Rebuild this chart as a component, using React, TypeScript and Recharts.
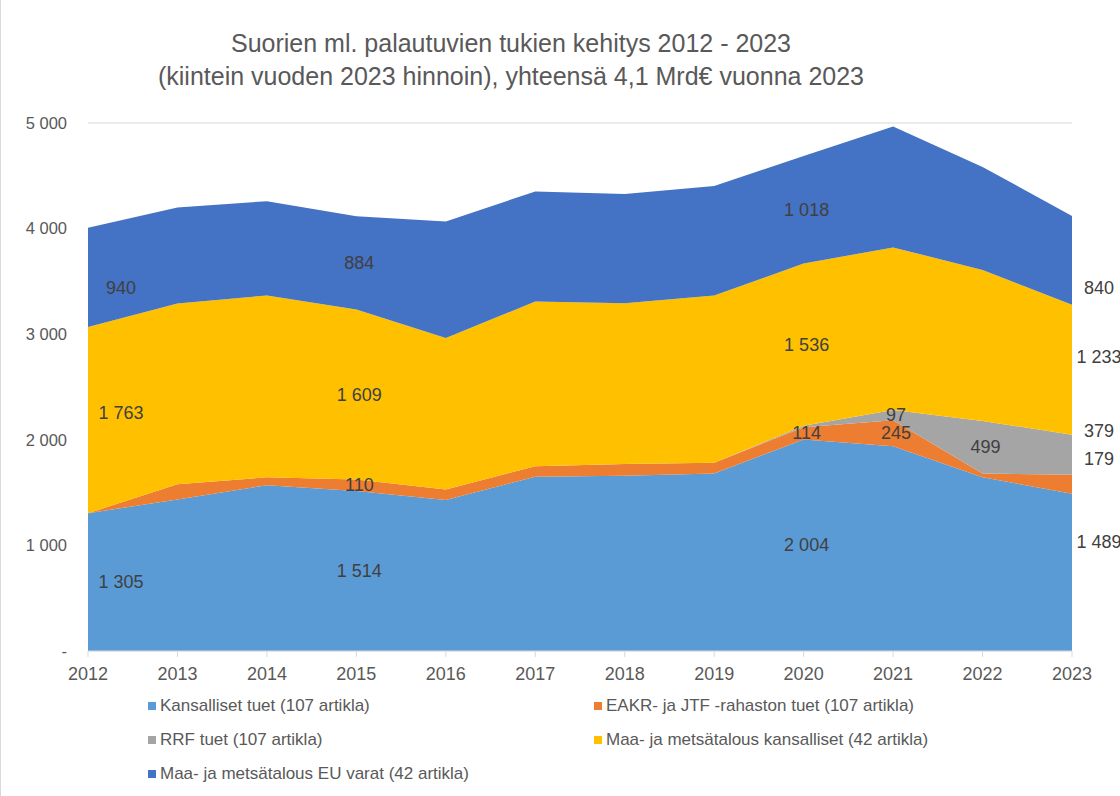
import { Area, AreaChart, CartesianGrid, LabelList, XAxis, YAxis } from "recharts";

const years = ["2012", "2013", "2014", "2015", "2016", "2017", "2018", "2019", "2020", "2021", "2022", "2023"];
const kansalliset = [1305, 1435, 1570, 1514, 1430, 1650, 1660, 1680, 2004, 1940, 1645, 1489];
const eakr = [0, 145, 75, 110, 100, 100, 112, 102, 114, 245, 35, 179];
const rrf = [0, 0, 0, 0, 0, 0, 0, 0, 15, 97, 499, 379];
const maaKansalliset = [1763, 1710, 1722, 1609, 1433, 1560, 1521, 1585, 1536, 1540, 1430, 1233];
const maaEu = [940, 910, 893, 884, 1104, 1042, 1035, 1036, 1018, 1145, 975, 840];
const yTicks = [0, 1000, 2000, 3000, 4000, 5000];

const W = 1120;
const H = 796;
const PLOT_TOP = 123;
const PLOT_BOTTOM = 651;
const PLOT_LEFT = 87;
const PLOT_RIGHT = 1071;
const Y_MAX = 5000;
const PX_PER_UNIT = (PLOT_BOTTOM - PLOT_TOP) / Y_MAX;

const TEXT = "#595959";
const LABEL = "#404040";
const FONT = "'Liberation Sans', Arial, sans-serif";

const data = years.map((year, i) => ({
  year,
  kansalliset: kansalliset[i],
  eakr: eakr[i],
  rrf: rrf[i],
  maaKansalliset: maaKansalliset[i],
  maaEu: maaEu[i],
}));

type SeriesDef = {
  key: string;
  name: string;
  color: string;
  labelled: number[];
  firstDy: number;
  lastDy: number;
};

const series: SeriesDef[] = [
  { key: "kansalliset", name: "Kansalliset tuet (107 artikla)", color: "#5B9BD5", labelled: [0, 3, 8, 11], firstDy: 0, lastDy: -30 },
  { key: "eakr", name: "EAKR- ja JTF -rahaston tuet (107 artikla)", color: "#ED7D31", labelled: [3, 8, 9, 11], firstDy: 0, lastDy: -25 },
  { key: "rrf", name: "RRF tuet (107 artikla)", color: "#A5A5A5", labelled: [9, 10, 11], firstDy: 0, lastDy: -24 },
  { key: "maaKansalliset", name: "Maa- ja metsätalous kansalliset (42 artikla)", color: "#FFC000", labelled: [0, 3, 8, 11], firstDy: -7, lastDy: -13 },
  { key: "maaEu", name: "Maa- ja metsätalous EU varat (42 artikla)", color: "#4472C4", labelled: [0, 3, 8, 11], firstDy: 11, lastDy: 28 },
];

const fmt = (v: number) => (v === 0 ? "-" : String(v).replace(/\B(?=(\d{3})+(?!\d))/g, " "));

function makeLabel(s: SeriesDef) {
  return (props: any) => {
    const { x, y, value, index } = props;
    if (!s.labelled.includes(index) || x == null || y == null) return null;
    const last = index === years.length - 1;
    const first = index === 0;
    const dx = first ? 33 : last ? 27 : 3;
    const dy = first ? s.firstDy : last ? s.lastDy : 0;
    const cy = y + (Number(value) * PX_PER_UNIT) / 2 + dy;
    return (
      <text
        x={x + dx}
        y={cy}
        textAnchor="middle"
        dominantBaseline="central"
        fill={LABEL}
        fontSize={18}
        fontFamily={FONT}
      >
        {fmt(Number(value))}
      </text>
    );
  };
}

const legendRows = [
  [series[0], series[1]],
  [series[2], series[3]],
  [series[4]],
];

export default function App() {
  return (
    <div
      style={{
        position: "absolute",
        left: 0,
        top: 0,
        width: W,
        height: H,
        background: "#fff",
        borderLeft: "1px solid #d9d9d9",
        boxSizing: "border-box",
        fontFamily: FONT,
      }}
    >
      <div
        style={{
          position: "absolute",
          top: 27,
          left: 0,
          width: 1020,
          textAlign: "center",
          color: TEXT,
          fontSize: 25,
          lineHeight: "33px",
        }}
      >
        <div>Suorien ml. palautuvien tukien kehitys 2012 - 2023</div>
        <div>(kiintein vuoden 2023 hinnoin), yhteensä 4,1 Mrd€ vuonna 2023</div>
      </div>

      <AreaChart
        width={W}
        height={H}
        data={data}
        margin={{ top: PLOT_TOP, right: W - PLOT_RIGHT, bottom: H - PLOT_BOTTOM - 30, left: PLOT_LEFT - 60 }}
      >
        <CartesianGrid vertical={false} stroke="#d9d9d9" />
        <XAxis
          dataKey="year"
          height={30}
          stroke="#d9d9d9"
          tickSize={6}
          tickMargin={10}
          tick={{ fill: TEXT, fontSize: 18, fontFamily: FONT }}
          interval={0}
        />
        <YAxis
          width={60}
          domain={[0, Y_MAX]}
          ticks={yTicks}
          axisLine={false}
          tickLine={false}
          tickSize={0}
          tickMargin={21}
          tickFormatter={(v: number) => fmt(v)}
          tick={{ fill: TEXT, fontSize: 16.5, fontFamily: FONT }}
        />
        {series.map((s) => (
          <Area
            key={s.key}
            type="linear"
            dataKey={s.key}
            name={s.name}
            stackId="1"
            fill={s.color}
            fillOpacity={1}
            stroke="none"
            isAnimationActive={false}
          >
            <LabelList dataKey={s.key} content={makeLabel(s)} />
          </Area>
        ))}
      </AreaChart>

      {legendRows.map((row, r) =>
        row.map((s, c) => (
          <div
            key={s.key}
            style={{
              position: "absolute",
              left: c === 0 ? 147 : 593,
              top: 696 + r * 34,
              display: "flex",
              alignItems: "center",
              color: TEXT,
              fontSize: 17,
              whiteSpace: "nowrap",
            }}
          >
            <span style={{ width: 8, height: 8, background: s.color, marginRight: 4, display: "inline-block" }} />
            {s.name}
          </div>
        ))
      )}
    </div>
  );
}
